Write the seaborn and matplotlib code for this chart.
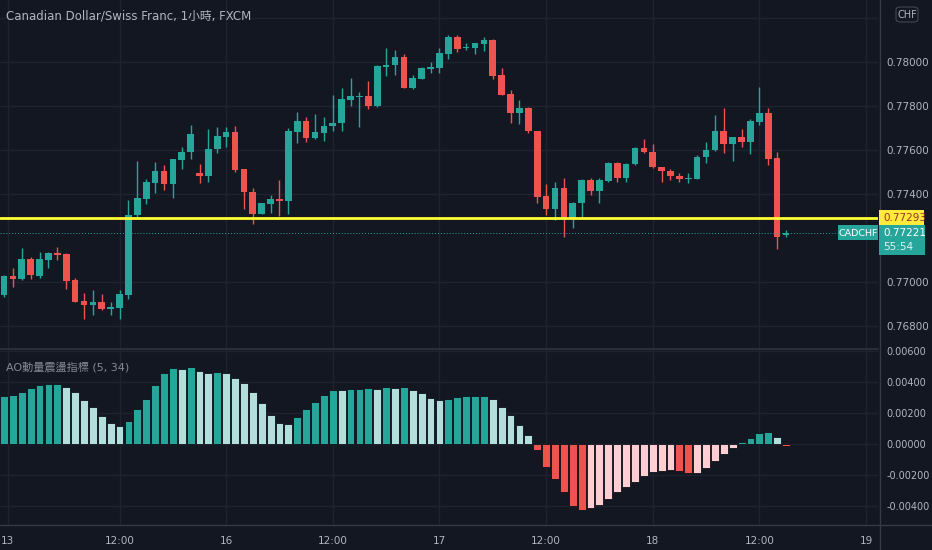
import numpy as np
import pandas as pd
import seaborn as sns
import matplotlib.pyplot as plt
from matplotlib.patches import FancyBboxPatch

# --- data (hourly CADCHF) ---
opens = [0.76939, 0.77027, 0.77012, 0.77103, 0.77027, 0.77100, 0.77130, 0.77127, 0.77009, 0.76915,
         0.76895, 0.76911, 0.76876, 0.76883, 0.76942, 0.77303, 0.77379, 0.77452, 0.77503, 0.77444,
         0.77555, 0.77591, 0.77494, 0.77482, 0.77603, 0.77661, 0.77683, 0.77514, 0.77411, 0.77309,
         0.77356, 0.77376, 0.77367, 0.77682, 0.77733, 0.77655, 0.77679, 0.77709, 0.77721, 0.77829,
         0.77841, 0.77844, 0.77800, 0.77979, 0.77985, 0.78021, 0.77880, 0.77924, 0.77970, 0.77974,
         0.78036, 0.78112, 0.78062, 0.78065, 0.78083, 0.78098, 0.77941, 0.77853, 0.77768, 0.77792,
         0.77688, 0.77391, 0.77330, 0.77426, 0.77289, 0.77358, 0.77464, 0.77415, 0.77461, 0.77542,
         0.77471, 0.77535, 0.77611, 0.77591, 0.77521, 0.77506, 0.77483, 0.77467, 0.77470, 0.77567,
         0.77600, 0.77686, 0.77627, 0.77661, 0.77636, 0.77727, 0.77767, 0.77564, 0.77212]
highs = [0.77032, 0.77065, 0.77153, 0.77112, 0.77138, 0.77138, 0.77161, 0.77130, 0.77017, 0.76948,
         0.76964, 0.76945, 0.76911, 0.76964, 0.77373, 0.77548, 0.77470, 0.77544, 0.77533, 0.77558,
         0.77612, 0.77714, 0.77536, 0.77694, 0.77706, 0.77706, 0.77711, 0.77514, 0.77426, 0.77361,
         0.77395, 0.77464, 0.77698, 0.77771, 0.77752, 0.77764, 0.77752, 0.77850, 0.77880, 0.77927,
         0.77864, 0.77912, 0.77986, 0.78065, 0.78055, 0.78035, 0.77941, 0.77979, 0.77998, 0.78064,
         0.78124, 0.78124, 0.78088, 0.78088, 0.78112, 0.78103, 0.77971, 0.77873, 0.77827, 0.77797,
         0.77688, 0.77444, 0.77456, 0.77471, 0.77365, 0.77468, 0.77471, 0.77471, 0.77547, 0.77547,
         0.77539, 0.77615, 0.77648, 0.77627, 0.77524, 0.77514, 0.77494, 0.77494, 0.77577, 0.77638,
         0.77761, 0.77789, 0.77661, 0.77694, 0.77741, 0.77888, 0.77789, 0.77592, 0.77236]
lows = [0.76933, 0.76979, 0.77009, 0.77012, 0.77020, 0.77065, 0.77100, 0.76970, 0.76911, 0.76830,
        0.76850, 0.76873, 0.76850, 0.76832, 0.76921, 0.77297, 0.77355, 0.77406, 0.77418, 0.77383,
        0.77512, 0.77558, 0.77452, 0.77456, 0.77585, 0.77615, 0.77502, 0.77330, 0.77262, 0.77309,
        0.77312, 0.77300, 0.77311, 0.77633, 0.77638, 0.77648, 0.77642, 0.77686, 0.77688, 0.77800,
        0.77706, 0.77786, 0.77797, 0.77936, 0.77941, 0.77880, 0.77876, 0.77921, 0.77948, 0.77948,
        0.78015, 0.78045, 0.78055, 0.78035, 0.78050, 0.77924, 0.77852, 0.77724, 0.77718, 0.77676,
        0.77361, 0.77305, 0.77282, 0.77203, 0.77244, 0.77289, 0.77395, 0.77358, 0.77456, 0.77456,
        0.77453, 0.77530, 0.77585, 0.77517, 0.77453, 0.77462, 0.77456, 0.77452, 0.77467, 0.77542,
        0.77597, 0.77588, 0.77550, 0.77615, 0.77580, 0.77714, 0.77532, 0.77148, 0.77203]
closes = [0.77027, 0.77015, 0.77103, 0.77030, 0.77103, 0.77133, 0.77123, 0.77006, 0.76911, 0.76895,
          0.76911, 0.76876, 0.76885, 0.76945, 0.77306, 0.77382, 0.77455, 0.77503, 0.77444, 0.77558,
          0.77592, 0.77671, 0.77482, 0.77606, 0.77664, 0.77683, 0.77509, 0.77407, 0.77309, 0.77361,
          0.77376, 0.77367, 0.77685, 0.77733, 0.77655, 0.77682, 0.77711, 0.77724, 0.77832, 0.77844,
          0.77845, 0.77800, 0.77982, 0.77986, 0.78021, 0.77880, 0.77927, 0.77971, 0.77976, 0.78039,
          0.78112, 0.78061, 0.78070, 0.78085, 0.78098, 0.77938, 0.77852, 0.77768, 0.77789, 0.77685,
          0.77388, 0.77330, 0.77426, 0.77289, 0.77358, 0.77464, 0.77415, 0.77464, 0.77542, 0.77471,
          0.77536, 0.77611, 0.77591, 0.77521, 0.77506, 0.77483, 0.77468, 0.77473, 0.77570, 0.77600,
          0.77686, 0.77627, 0.77661, 0.77636, 0.77730, 0.77767, 0.77561, 0.77206, 0.77221]
ao = [3.05, 3.12, 3.33, 3.59, 3.76, 3.83, 3.87, 3.63, 3.31, 2.82,
      2.34, 1.78, 1.35, 1.12, 1.46, 2.22, 2.90, 3.76, 4.58, 4.90,
      4.84, 4.95, 4.71, 4.58, 4.62, 4.58, 4.24, 3.89, 3.33, 2.60,
      1.87, 1.31, 1.27, 1.72, 2.24, 2.71, 3.16, 3.48, 3.44, 3.53,
      3.53, 3.59, 3.53, 3.68, 3.59, 3.63, 3.46, 3.29, 2.95, 2.82,
      2.86, 2.99, 3.05, 3.05, 3.05, 2.86, 2.39, 1.83, 1.20, 0.54,
      -0.43, -1.48, -2.28, -3.14, -4.00, -4.28, -4.13, -3.96, -3.57, -3.10,
      -2.80, -2.47, -2.06, -1.84, -1.76, -1.70, -1.76, -1.91, -1.87, -1.59,
      -1.14, -0.67, -0.30, 0.11, 0.34, 0.69, 0.75, 0.45, -0.17]
ao = [v / 1000 for v in ao]
hline_price = 0.77293
last_price = 0.77221
price_ticks = [0.768, 0.770, 0.774, 0.776, 0.778, 0.780, 0.782]
ao_ticks = [-0.004, -0.002, 0.0, 0.002, 0.004, 0.006]
x_tick_pos = [0.4, 13, 25, 37, 49, 61, 73, 85, 97]
x_tick_labels = ["13", "12:00", "16", "12:00", "17", "12:00", "18", "12:00", "19"]

df = pd.DataFrame({"open": opens, "high": highs, "low": lows, "close": closes, "ao": ao})
df["i"] = np.arange(len(df))

BG = "#131722"
GRID = "#1f2330"
TXT = "#b2b5be"
UP = "#26a69a"
DN = "#ef5350"

sns.set_theme(style="dark", rc={"axes.facecolor": BG, "figure.facecolor": BG})
plt.rcParams["font.family"] = ["DejaVu Sans", "Noto Sans CJK TC"]

fig = plt.figure(figsize=(9.32, 5.5), dpi=100)
W, H = 932, 550
plot_w = 878 / W
ax = fig.add_axes([0, 1 - 348 / H, plot_w, 348 / H])
ax2 = fig.add_axes([0, 25 / H, plot_w, 177 / H])

# --- candles ---
up = df["close"] >= df["open"]
colors = np.where(up, UP, DN)
ax.vlines(df["i"], df["low"], df["high"], colors=colors, linewidth=1)
body_lo = np.minimum(df["open"], df["close"])
body_h = np.maximum((df["close"] - df["open"]).abs(), 0.00003)
ax.bar(df["i"], body_h, bottom=body_lo, width=0.75, color=colors, linewidth=0)

ax.axhline(hline_price, color="#ffff33", linewidth=2, zorder=5)
ax.axhline(last_price, color=UP, linewidth=0.7, linestyle=(0, (1, 2)), zorder=4)

# --- AO histogram ---
ao_col = []
for k, v in enumerate(df["ao"]):
    rising = k == 0 or v >= df["ao"].iloc[k - 1]
    if v >= 0:
        ao_col.append("up_pos" if rising else "dn_pos")
    else:
        ao_col.append("up_neg" if rising else "dn_neg")
df["aocol"] = ao_col
pal = {"up_pos": UP, "dn_pos": "#b2dfdb", "up_neg": "#ffcdd2", "dn_neg": DN}
sns.barplot(data=df, x="i", y="ao", hue="aocol", palette=pal, dodge=False, native_scale=True,
            width=0.88, legend=False, ax=ax2, edgecolor="#0d1018", linewidth=0.6, saturation=1)

# --- axes styling ---
for a in (ax, ax2):
    a.set_xlim(-0.45, 98.35)
    a.set_xticks(x_tick_pos)
    a.grid(True, color=GRID, linewidth=1)
    a.set_axisbelow(True)
    a.yaxis.tick_right()
    a.tick_params(axis="y", colors=TXT, labelsize=7.5, length=0, pad=6)
    a.set_xlabel("")
    a.set_ylabel("")
    for s in a.spines.values():
        s.set_visible(False)
ax.set_xticklabels([])
ax.tick_params(axis="x", length=0)
ax2.set_xticklabels(x_tick_labels)
ax2.tick_params(axis="x", colors=TXT, labelsize=7.5, length=0, pad=8)

ax.set_ylim(0.76700, 0.78282)
ax.set_yticks(price_ticks)
ax.set_yticklabels([f"{p:.5f}" for p in price_ticks])
ax.yaxis.get_ticklabels()[-1].set_visible(False)
ax2.set_ylim(-0.00525, 0.00617)
ax2.set_yticks(ao_ticks)
ax2.set_yticklabels([f"{v:.5f}" for v in ao_ticks])
for lab in ax2.yaxis.get_ticklabels():
    lab.set_fontsize(7)

# panel separators
fig.add_artist(plt.Line2D([0, plot_w], [1 - 349 / H] * 2, color="#2a2e39", linewidth=1.5))
fig.add_artist(plt.Line2D([0, 1], [25 / H] * 2, color="#363a45", linewidth=1))
fig.add_artist(plt.Line2D([880 / W] * 2, [0, 1], color="#363a45", linewidth=1))

# titles
fig.text(6 / W, 1 - 16 / H, "Canadian Dollar/Swiss Franc, 1小時, FXCM", color=TXT, fontsize=8.5, va="center")
fig.text(6 / W, 1 - 367 / H, "AO動量震盪指標 (5, 34)", color="#868993", fontsize=8, va="center")

# price labels on the right
def yfig(axis, val):
    return fig.transFigure.inverted().transform(axis.transData.transform((0, val)))[1]

def box(x, y, w, h, color, **kw):
    fig.add_artist(FancyBboxPatch((x, y), w, h, transform=fig.transFigure, facecolor=color,
                                  zorder=10, **kw))

yy = yfig(ax, hline_price)
box(879 / W, yy - 8 / H, 45 / W, 16 / H, "#ffeb3b", boxstyle="square,pad=0", edgecolor="none")
fig.text(883 / W, yy, f"{hline_price:.5f}", color="#a0302a", fontsize=7.5, va="center", zorder=11)

yl = yfig(ax, last_price)
box(879 / W, yl - 22 / H, 46 / W, 30 / H, UP, boxstyle="square,pad=0", edgecolor="none")
box(838 / W, yl - 7 / H, 40 / W, 15 / H, UP, boxstyle="square,pad=0", edgecolor="none")
fig.text(858 / W, yl, "CADCHF", color="white", fontsize=6.8, va="center", ha="center", zorder=11)
fig.text(883 / W, yl, f"{last_price:.5f}", color="white", fontsize=7.5, va="center", zorder=11)
fig.text(883 / W, yl - 14 / H, "55:54", color="#e0f2f1", fontsize=7.5, va="center", zorder=11)

# currency badge
box(896 / W, 1 - 22 / H, 22 / W, 15 / H, BG, boxstyle="round,pad=0,rounding_size=0.005",
    edgecolor="#434651", linewidth=0.8)
fig.text(907 / W, 1 - 14.5 / H, "CHF", color=TXT, fontsize=7, va="center", ha="center", zorder=11)

fig.savefig("out.png", dpi=100, facecolor=BG)
plt.close(fig)
